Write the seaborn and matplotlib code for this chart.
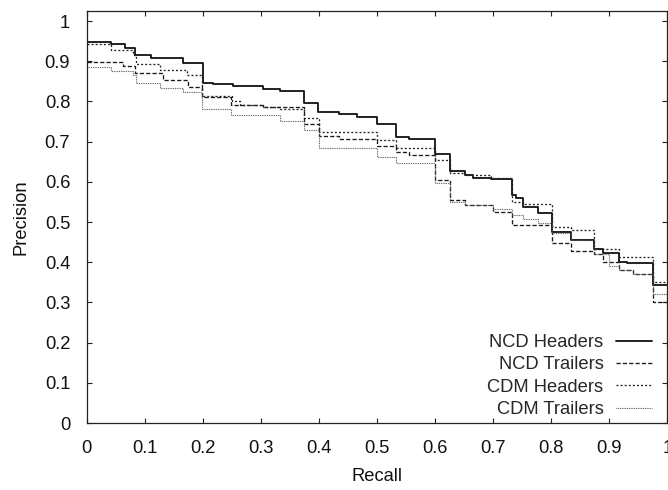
import matplotlib
matplotlib.use('Agg')
import matplotlib.pyplot as plt
import seaborn as sns
from matplotlib.lines import Line2D


OUT_PATH = 'out.png'

# step curves: each y holds from its x until the next x
ncd_headers_x = [0, 0.042, 0.065, 0.083, 0.11, 0.165, 0.2, 0.217, 0.252, 0.303, 0.332, 0.374,
                 0.399, 0.434, 0.466, 0.5, 0.533, 0.555, 0.6, 0.625, 0.651, 0.665, 0.697, 0.733,
                 0.74, 0.751, 0.777, 0.801, 0.834, 0.874, 0.89, 0.917, 0.93, 0.975, 1.0]
ncd_headers_y = [0.948, 0.943, 0.934, 0.915, 0.909, 0.895, 0.847, 0.844, 0.839, 0.830, 0.826, 0.795,
                 0.774, 0.768, 0.762, 0.745, 0.712, 0.706, 0.669, 0.628, 0.617, 0.609, 0.607, 0.567,
                 0.559, 0.537, 0.522, 0.476, 0.455, 0.432, 0.422, 0.401, 0.398, 0.343, 0.343]

ncd_trailers_x = [0, 0.063, 0.083, 0.131, 0.174, 0.199, 0.249, 0.303, 0.374, 0.4, 0.434, 0.5,
                  0.533, 0.555, 0.6, 0.625, 0.651, 0.7, 0.733, 0.801, 0.834, 0.874, 0.89, 0.917,
                  0.94, 0.975, 1.0]
ncd_trailers_y = [0.897, 0.888, 0.871, 0.853, 0.837, 0.812, 0.791, 0.787, 0.745, 0.714, 0.706, 0.689,
                  0.675, 0.667, 0.604, 0.555, 0.543, 0.526, 0.493, 0.447, 0.429, 0.42, 0.40, 0.38,
                  0.37, 0.302, 0.302]

cdm_headers_x = [0, 0.042, 0.08, 0.084, 0.126, 0.173, 0.199, 0.25, 0.263, 0.303, 0.332, 0.374,
                 0.4, 0.5, 0.533, 0.6, 0.625, 0.651, 0.697, 0.733, 0.751, 0.801, 0.834, 0.874,
                 0.917, 0.975, 1.0]
cdm_headers_y = [0.944, 0.928, 0.915, 0.892, 0.878, 0.866, 0.814, 0.80, 0.791, 0.787, 0.780, 0.760,
                 0.725, 0.704, 0.685, 0.654, 0.623, 0.617, 0.61, 0.551, 0.545, 0.488, 0.48, 0.432,
                 0.412, 0.35, 0.35]

cdm_trailers_x = [0, 0.042, 0.08, 0.084, 0.126, 0.166, 0.199, 0.249, 0.332, 0.374, 0.4, 0.5,
                  0.533, 0.6, 0.625, 0.651, 0.7, 0.733, 0.751, 0.777, 0.801, 0.834, 0.874, 0.9,
                  0.917, 0.94, 0.975, 1.0]
cdm_trailers_y = [0.886, 0.876, 0.866, 0.847, 0.833, 0.823, 0.78, 0.766, 0.751, 0.73, 0.683, 0.662,
                  0.646, 0.596, 0.551, 0.543, 0.532, 0.517, 0.507, 0.497, 0.472, 0.455, 0.42, 0.39,
                  0.38, 0.37, 0.32, 0.32]

series_labels = ['NCD Headers', 'NCD Trailers', 'CDM Headers', 'CDM Trailers']
ticks = [0, 0.1, 0.2, 0.3, 0.4, 0.5, 0.6, 0.7, 0.8, 0.9, 1]
tick_labels = ['0', '0.1', '0.2', '0.3', '0.4', '0.5', '0.6', '0.7', '0.8', '0.9', '1']

FS = 13.2


def setup_style():
    sns.set_theme(style='ticks')
    plt.rcParams['font.family'] = ['Liberation Sans', 'DejaVu Sans']
    plt.rcParams['axes.edgecolor'] = '#222222'
    plt.rcParams['axes.linewidth'] = 0.9


def main():
    setup_style()
    fig = plt.figure(figsize=(6.68, 4.9), dpi=100)
    ax = fig.add_axes([0.130, 0.1367, 0.869, 0.8409])

    styles = [
        dict(color='#111111', linewidth=1.3, linestyle='-'),
        dict(color='#1a1a1a', linewidth=0.95, linestyle=(0, (3.2, 1.6))),
        dict(color='#222222', linewidth=0.95, linestyle=(0, (1.5, 1.6))),
        dict(color='#555555', linewidth=0.8, linestyle=(0, (0.8, 0.8))),
    ]
    data = [(ncd_headers_x, ncd_headers_y), (ncd_trailers_x, ncd_trailers_y),
            (cdm_headers_x, cdm_headers_y), (cdm_trailers_x, cdm_trailers_y)]

    handles = []
    for (xs, ys), st in zip(data, styles):
        sns.lineplot(x=xs, y=ys, ax=ax, drawstyle='steps-post', estimator=None, sort=False, **st)
        handles.append(Line2D([], [], **st))

    ax.set_xlim(0, 1)
    ax.set_ylim(0, 1.025)
    ax.set_xticks(ticks)
    ax.set_xticklabels(tick_labels)
    ax.set_yticks(ticks)
    ax.set_yticklabels(tick_labels)
    ax.tick_params(direction='in', length=3.6, width=0.8, colors='#222222',
                   top=True, right=True, labelsize=FS)
    ax.tick_params(axis='x', pad=12)
    ax.tick_params(axis='y', pad=12)
    for lab in ax.get_xticklabels() + ax.get_yticklabels():
        lab.set_color('#111111')

    ax.set_xlabel('Recall', fontsize=FS, labelpad=8, color='#111111')
    ax.set_ylabel('Precision', fontsize=FS, labelpad=11, color='#111111')

    ax.legend(handles, series_labels, loc='lower right', bbox_to_anchor=(0.974, 0.012),
              frameon=False, markerfirst=False, fontsize=FS, borderpad=0, borderaxespad=0,
              handlelength=2.0, handletextpad=0.66, labelspacing=0.29)

    fig.savefig(OUT_PATH, dpi=100)
    plt.close(fig)


if __name__ == '__main__':
    main()
